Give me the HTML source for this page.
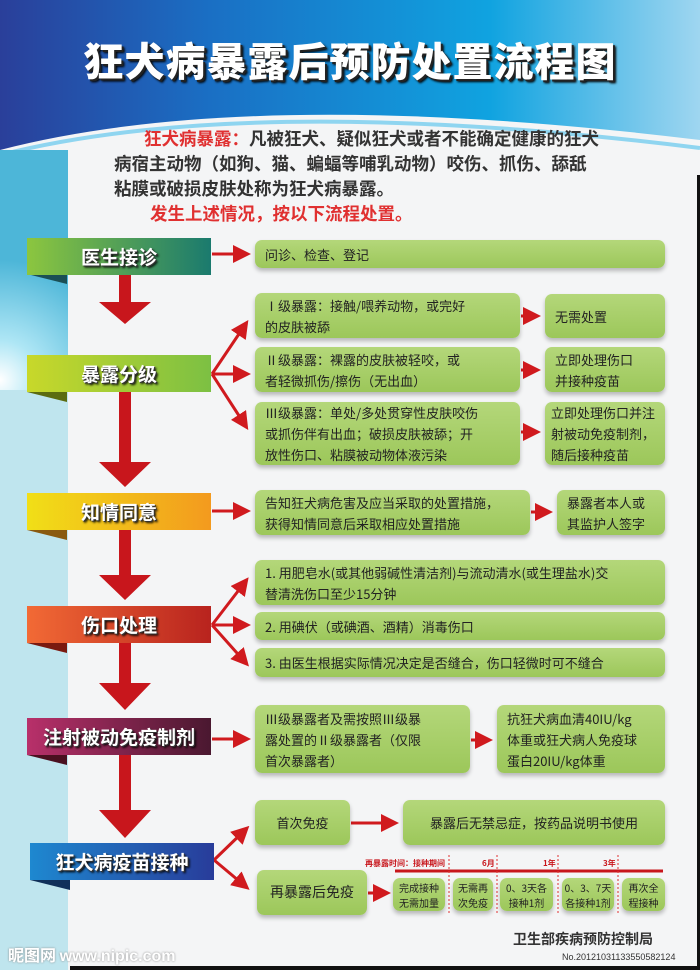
<!DOCTYPE html>
<html><head><meta charset="utf-8">
<style>
*{margin:0;padding:0;box-sizing:border-box}
body{width:700px;height:970px;position:relative;overflow:hidden;background:#fff;font-family:"Liberation Sans","Noto Sans CJK SC",sans-serif}
.abs{position:absolute}
.lbl{position:absolute;left:27px;width:184px;height:37px;color:#fff;font-weight:bold;font-size:19px;text-align:center;line-height:37px;text-shadow:1px 1px 0 #333,2px 2px 2px #000;font-family:"Noto Sans CJK SC",sans-serif}
.fold{position:absolute;left:27px;width:0;height:0;border-top:10px solid #333;border-left:40px solid transparent}
.box{position:absolute;background:linear-gradient(180deg,#b4d77a,#9cc75a);border-radius:7px;color:#222;font-size:13px;line-height:21px;padding:4px 10px;box-shadow:0 3px 4px rgba(0,0,0,.25);font-family:"Noto Sans CJK SC",sans-serif;display:flex;align-items:center;white-space:nowrap}
.sm{font-size:10px;line-height:15px;justify-content:center;text-align:center;padding:2px}
</style></head><body>
<div class="abs" style="left:0;top:0;width:700px;height:970px;background:#bfe5ee"></div>
<div class="abs" style="left:0;top:0;width:700px;height:200px;background:linear-gradient(90deg,#2a3f9a 0%,#1a6fc4 30%,#10a3e0 70%,#9fd6f0 100%)"></div>
<div class="abs" style="left:0;top:150px;width:68px;height:240px;background:radial-gradient(circle at 0 210px,#fff 0,#aee6f5 40px,#4db6d8 120px)"></div>
<svg class="abs" style="left:0;top:0" width="700" height="970">
<path d="M0 150 Q250 85 700 140 L700 970 L0 970 Z" fill="#f4f5f6"/>
<path d="M0 155 Q250 92 700 148" stroke="#8fd5f0" stroke-width="4" fill="none"/>
<rect x="0" y="158" width="68" height="812" fill="#bfe5ee"/>
</svg>
<div class="abs" style="left:0;top:150px;width:68px;height:240px;background:radial-gradient(circle at 0 230px,#fff 0,#aee6f5 40px,#4db6d8 120px)"></div>
<div class="abs" style="left:697px;top:175px;width:3px;height:795px;background:#111"></div>
<div class="abs" style="left:70px;top:966px;width:630px;height:4px;background:#111"></div>
<div class="abs" style="left:0;top:30px;width:700px;text-align:center;font-size:40px;font-weight:900;color:#fff;letter-spacing:1px;text-shadow:2px 2px 0 #222,3px 3px 2px #000;font-family:'Noto Sans CJK SC',sans-serif">狂犬病暴露后预防处置流程图</div>
<div class="abs" style="left:114px;top:126px;width:580px;font-size:17.5px;line-height:25px;font-weight:bold;color:#333;white-space:nowrap;font-family:'Noto Sans CJK SC',sans-serif">
<span style="padding-left:30px;color:#e03030">狂犬病暴露：</span>凡被狂犬、疑似狂犬或者不能确定健康的狂犬<br>病宿主动物（如狗、猫、蝙蝠等哺乳动物）咬伤、抓伤、舔舐<br>粘膜或破损皮肤处称为狂犬病暴露。<br><span style="padding-left:36px;color:#e03030">发生上述情况，按以下流程处置。</span></div>
<svg class="abs" style="left:0;top:0" width="700" height="970">
<defs><marker id="a" markerWidth="6" markerHeight="6" refX="4" refY="3" orient="auto" markerUnits="strokeWidth"><path d="M0 0L6 3L0 6Z" fill="#d01a1e"/></marker></defs>
<g fill="#c8161c">
<path d="M119 274h12v28h20l-26 22l-26-22h20z"/>
<path d="M119 392h12v70h20l-26 25l-26-25h20z"/>
<path d="M119 530h12v45h20l-26 25l-26-25h20z"/>
<path d="M119 643h12v40h20l-26 27l-26-27h20z"/>
<path d="M119 755h12v55h20l-26 28l-26-28h20z"/>
</g>
<g stroke="#d01a1e" stroke-width="3" fill="none" marker-end="url(#a)">
<path d="M212 254H245"/>
<path d="M212 374L245 325"/><path d="M212 374H245"/><path d="M212 374L245 425"/>
<path d="M212 511H245"/>
<path d="M212 625L245 582"/><path d="M212 625H245"/><path d="M212 625L245 662"/>
<path d="M212 739H245"/>
<path d="M214 860L245 830"/><path d="M214 860L245 886"/>
<path d="M521 316H535"/><path d="M521 370H535"/><path d="M521 432H535"/><path d="M531 512H547"/>
<path d="M471 740H487"/><path d="M351 823H393"/><path d="M368 893H385"/>
</g>
<path d="M395 871H663" stroke="#c8161c" stroke-width="3"/>
<g stroke="#e03030" stroke-width="1" stroke-dasharray="2,2"><path d="M449 855V915"/><path d="M497 855V915"/><path d="M558 855V915"/><path d="M618 855V915"/></g>
<g font-size="8" fill="#c8161c" font-weight="bold" font-family="Noto Sans CJK SC,sans-serif"><text x="365" y="866">再暴露时间：接种期间</text><text x="482" y="866">6月</text><text x="543" y="866">1年</text><text x="603" y="866">3年</text></g>
</svg>
<div class="fold" style="top:274px;border-top-color:#1b4f55"></div>
<div class="lbl" style="top:238px;background:linear-gradient(90deg,#8cc63f,#1a7a6e)">医生接诊</div>
<div class="fold" style="top:392px;border-top-color:#5b6b10"></div>
<div class="lbl" style="top:355px;background:linear-gradient(90deg,#c8d82a,#7cc043)">暴露分级</div>
<div class="fold" style="top:530px;border-top-color:#8a5a10"></div>
<div class="lbl" style="top:493px;background:linear-gradient(90deg,#f1df17,#f39a1e)">知情同意</div>
<div class="fold" style="top:643px;border-top-color:#7a1a10"></div>
<div class="lbl" style="top:606px;background:linear-gradient(90deg,#f26a35,#b8231e)">伤口处理</div>
<div class="fold" style="top:755px;border-top-color:#4a1020"></div>
<div class="lbl" style="top:718px;background:linear-gradient(90deg,#b8306a,#4a1830)">注射被动免疫制剂</div>
<div class="fold" style="top:880px;left:30px;border-top-color:#10305a"></div>
<div class="lbl" style="top:843px;left:30px;background:linear-gradient(90deg,#1e88d0,#283c9a)">狂犬病疫苗接种</div>
<div class="box" style="left:255px;top:240px;width:410px;height:28px">问诊、检查、登记</div>
<div class="box" style="left:255px;top:293px;width:265px;height:45px">Ⅰ级暴露：接触/喂养动物，或完好<br>的皮肤被舔</div>
<div class="box" style="left:545px;top:294px;width:120px;height:44px">无需处置</div>
<div class="box" style="left:255px;top:347px;width:265px;height:45px">Ⅱ级暴露：裸露的皮肤被轻咬，或<br>者轻微抓伤/擦伤（无出血）</div>
<div class="box" style="left:545px;top:347px;width:120px;height:45px">立即处理伤口<br>并接种疫苗</div>
<div class="box" style="left:255px;top:402px;width:265px;height:63px">Ⅲ级暴露：单处/多处贯穿性皮肤咬伤<br>或抓伤伴有出血；破损皮肤被舔；开<br>放性伤口、粘膜被动物体液污染</div>
<div class="box" style="left:545px;top:402px;width:120px;height:63px;padding:2px 6px">立即处理伤口并注<br>射被动免疫制剂，<br>随后接种疫苗</div>
<div class="box" style="left:255px;top:490px;width:275px;height:45px">告知狂犬病危害及应当采取的处置措施，<br>获得知情同意后采取相应处置措施</div>
<div class="box" style="left:557px;top:490px;width:108px;height:45px">暴露者本人或<br>其监护人签字</div>
<div class="box" style="left:255px;top:560px;width:410px;height:45px">1. 用肥皂水(或其他弱碱性清洁剂)与流动清水(或生理盐水)交<br>替清洗伤口至少15分钟</div>
<div class="box" style="left:255px;top:612px;width:410px;height:28px">2. 用碘伏（或碘酒、酒精）消毒伤口</div>
<div class="box" style="left:255px;top:648px;width:410px;height:29px">3. 由医生根据实际情况决定是否缝合，伤口轻微时可不缝合</div>
<div class="box" style="left:255px;top:705px;width:215px;height:68px">Ⅲ级暴露者及需按照Ⅲ级暴<br>露处置的Ⅱ级暴露者（仅限<br>首次暴露者）</div>
<div class="box" style="left:497px;top:705px;width:168px;height:68px">抗狂犬病血清40IU/kg<br>体重或狂犬病人免疫球<br>蛋白20IU/kg体重</div>
<div class="box" style="left:255px;top:800px;width:95px;height:45px;justify-content:center">首次免疫</div>
<div class="box" style="left:403px;top:800px;width:262px;height:45px;justify-content:center">暴露后无禁忌症，按药品说明书使用</div>
<div class="box" style="left:257px;top:870px;width:110px;height:45px;justify-content:center;font-size:14px">再暴露后免疫</div>
<div class="box sm" style="left:393px;top:878px;width:52px;height:33px">完成接种<br>无需加量</div>
<div class="box sm" style="left:453px;top:878px;width:40px;height:33px">无需再<br>次免疫</div>
<div class="box sm" style="left:500px;top:878px;width:53px;height:33px">0、3天各<br>接种1剂</div>
<div class="box sm" style="left:562px;top:878px;width:52px;height:33px">0、3、7天<br>各接种1剂</div>
<div class="box sm" style="left:622px;top:878px;width:43px;height:33px">再次全<br>程接种</div>
<div class="abs" style="left:513px;top:929px;font-size:14px;font-weight:bold;color:#333;font-family:'Noto Sans CJK SC',sans-serif">卫生部疾病预防控制局</div>
<div class="abs" style="left:562px;top:952px;font-size:9px;color:#333">No.20121031133550582124</div>
<div class="abs" style="left:8px;top:942px;font-size:16px;font-weight:bold;color:#fff;text-shadow:0 0 2px #888;font-family:'Noto Sans CJK SC',sans-serif">昵图网 <span style="font-family:'Liberation Sans'">www.nipic.com</span></div>
</body></html>
